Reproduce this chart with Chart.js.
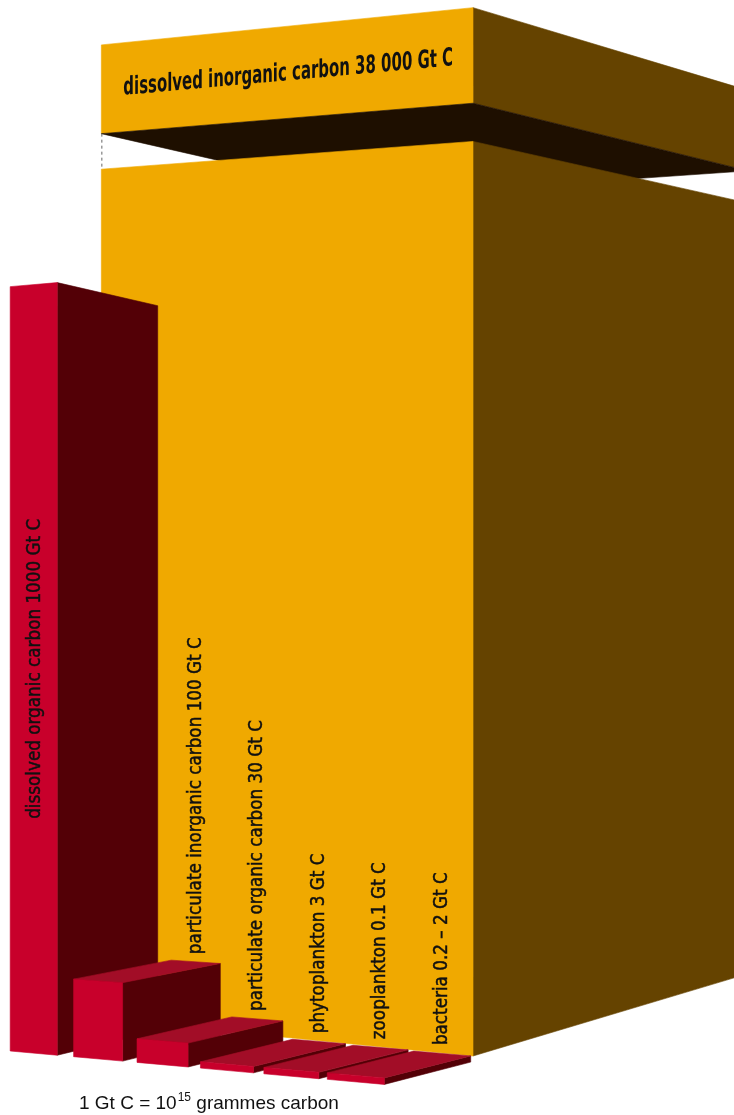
<!DOCTYPE html>
<html>
<head>
<meta charset="utf-8">
<script src="https://cdn.jsdelivr.net/npm/chart.js@4/dist/chart.umd.min.js"></script>
<style>
  html, body { margin: 0; padding: 0; background: #fff; }
  canvas { display: block; }
</style>
</head>
<body>
<canvas id="chart" width="734" height="1115"></canvas>
<script>
// Réservoirs de carbone dans l'océan (Gt C) -- barres rouges
const pools = ['dissolved organic carbon', 'particulate inorganic carbon', 'particulate organic carbon', 'phytoplankton', 'zooplankton', 'bacteria'];
const poolLow = [0, 0, 0, 0, 0, 0.2];   // bacteria = range 0.2 – 2
const poolHigh = [1000, 100, 30, 3, 0.1, 2];

// le gros bloc orange derriere (hors echelle, donc axe coupé)
const inorganicName = 'dissolved inorganic carbon';
const inorganicValue = 38000;

// axe y: max visible + zone de coupure du bloc 38 000
const yMax = 1375;
const yBreak = [1190, 1240];
const yCapTop = 1365;

const footnote = ['1 Gt C = 10', '15', ' grammes carbon'];

// -- COULEURS --
const RED_FRONT = '#c8002b';
const RED_SIDE = '#530006';
const RED_TOP = '#a20d27';
const ORANGE_FRONT = '#f0a900';
const ORANGE_SIDE = '#654300';
const ORANGE_UNDER = '#1e0f00';
const TEXT = '#111';

const LABEL_FONT = '18.7px "DejaVu Sans Condensed", "Liberation Sans", sans-serif';
const TITLE_FONT = 'bold 25px "DejaVu Sans Condensed", "Liberation Sans", sans-serif';
const NOTE_FONT = '19px "Liberation Sans", Arial, sans-serif';

// perspective "a la main": horizon, distance du point de fuite gauche, profondeur
const redView = { horizon: 660, vanish: 4345, depth: 1640 };
const orangeView = { horizon: 533, vanish: 4770, depth: 1747 };
const MIN_THICK = 6;        // epaisseur mini pour les tout petits reservoirs
const DEPTH0 = 102.5;       // profondeur des blocs rouges
const DEPTH_SHRINK = 0.043; // les blocs de droite sont moins profonds
const WIDEN = 0.00066;      // ... mais un peu plus larges
const ORANGE_DEPTH = 275;
const ORANGE_DROP = 5;      // le bloc orange descend un peu plus bas
const inorganicSpan = [1.05, 6.82]; // en unités de categorie

function fmtGt(lo, hi) {
  const f = v => v >= 10000 ? String(v).replace(/\B(?=(\d{3})+(?!\d))/g, ' ') : String(v);
  return (lo > 0 ? f(lo) + ' – ' + f(hi) : f(hi)) + ' Gt C';
}

// glisse un point le long d'une arete "avant" (vers le point de fuite gauche)
function front(view, chart, xFrom, yFrom, xTo) {
  const vpX = chart.chartArea.left - view.vanish;
  return view.horizon + (yFrom - view.horizon) * (xTo - vpX) / (xFrom - vpX);
}

// point arriere d'une arete (profondeur vers la droite)
function back(view, p, dx) {
  return [p[0] + dx, p[1] + (view.horizon - p[1]) * dx / view.depth];
}

function poly(ctx, pts, color) {
  ctx.beginPath();
  ctx.moveTo(pts[0][0], pts[0][1]);
  for (let i = 1; i < pts.length; i++) ctx.lineTo(pts[i][0], pts[i][1]);
  ctx.closePath();
  ctx.fillStyle = color;
  ctx.fill();
  ctx.strokeStyle = color;
  ctx.lineWidth = 0.6;
  ctx.stroke();
}

function drawInorganic(chart) {
  const { ctx, scales: { x, y } } = chart;
  const xl = x.getPixelForValue(inorganicSpan[0]);
  const xr = x.getPixelForValue(inorganicSpan[1]);
  const P = (val, xx) => {
    const py = y.getPixelForValue(val) + (val === 0 ? ORANGE_DROP : 0);
    return [xx, front(orangeView, chart, xr, py, xx)];
  };
  const B = p => back(orangeView, p, ORANGE_DEPTH);

  // [FLB, FLT, FRT, FRB]
  const lo = [P(0, xl), P(yBreak[0], xl), P(yBreak[0], xr), P(0, xr)];
  const up = [P(yBreak[1], xl), P(yCapTop, xl), P(yCapTop, xr), P(yBreak[1], xr)];

  ctx.save();
  poly(ctx, [up[2], B(up[2]), B(up[3]), up[3]], ORANGE_SIDE);
  poly(ctx, up, ORANGE_FRONT);
  poly(ctx, [up[0], up[3], B(up[3]), B(up[0])], ORANGE_UNDER); // dessous visible
  poly(ctx, [lo[2], B(lo[2]), B(lo[3]), lo[3]], ORANGE_SIDE);
  poly(ctx, lo, ORANGE_FRONT);

  // pointillé de la coupure
  ctx.beginPath();
  ctx.setLineDash([3, 3]);
  ctx.strokeStyle = '#666';
  ctx.lineWidth = 1;
  ctx.moveTo(xl + 0.5, up[0][1]);
  ctx.lineTo(xl + 0.5, lo[1][1]);
  ctx.stroke();
  ctx.setLineDash([]);

  // titre sur la face avant, cisaillé selon la perspective
  const text = inorganicName + ' ' + fmtGt(0, inorganicValue);
  const tx = xl + 22;
  const topY = front(orangeView, chart, xr, up[2][1], tx);
  const botY = front(orangeView, chart, xr, up[3][1], tx);
  const by = topY + 0.585 * (botY - topY);
  const slope = (by - orangeView.horizon) / (tx - (chart.chartArea.left - orangeView.vanish));
  ctx.font = TITLE_FONT;
  const room = (xr - 20) - tx;
  const sx = Math.min(1, room / ctx.measureText(text).width);
  ctx.setTransform(sx, slope * sx, 0, 1, tx, by);
  ctx.fillStyle = TEXT;
  ctx.textAlign = 'left';
  ctx.textBaseline = 'alphabetic';
  ctx.fillText(text, 0, 0);
  ctx.restore();
}

function drawPools(chart) {
  const { ctx, scales: { y } } = chart;
  const meta = chart.getDatasetMeta(0);
  const x0 = meta.data[0].x;
  const xRef = x0 - meta.data[0].width / 2;
  const labels = [];

  ctx.save();
  meta.data.forEach((bar, i) => {
    const half = bar.width / 2 * (1 + WIDEN * (bar.x - x0));
    const xl = bar.x - half;
    const xr = bar.x + half;
    const yLo = y.getPixelForValue(poolLow[i]);
    let yHi = y.getPixelForValue(poolHigh[i]);
    if (yLo - yHi < MIN_THICK) yHi = yLo - MIN_THICK;

    const P = (yy, xx) => [xx, front(redView, chart, xRef, yy, xx)];
    const FLB = P(yLo, xl), FLT = P(yHi, xl), FRT = P(yHi, xr), FRB = P(yLo, xr);
    const dx = DEPTH0 - DEPTH_SHRINK * (xr - xRef);
    const B = p => back(redView, p, dx);

    poly(ctx, [FRT, B(FRT), B(FRB), FRB], RED_SIDE);
    if (FLT[1] > redView.horizon) poly(ctx, [FLT, B(FLT), B(FRT), FRT], RED_TOP);
    poly(ctx, [FLB, FLT, FRT, FRB], RED_FRONT);

    labels.push({ FLB, FLT, FRT, back: [B(FLT), B(FRT)] });
  });

  // textes verticaux: dans la face si ça rentre, sinon au dessus du bloc
  ctx.font = LABEL_FONT;
  ctx.fillStyle = TEXT;
  ctx.strokeStyle = TEXT;
  ctx.lineWidth = 0.45; // un poil plus gras
  ctx.textBaseline = 'middle';
  labels.forEach((l, i) => {
    const text = pools[i] + ' ' + fmtGt(poolLow[i], poolHigh[i]);
    const w = ctx.measureText(text).width;
    const faceH = l.FLB[1] - l.FLT[1];
    ctx.save();
    if (w + 60 < faceH) {
      ctx.translate((l.FLT[0] + l.FRT[0]) / 2 + 1, (l.FLB[1] + l.FLT[1]) / 2);
      ctx.rotate(-Math.PI / 2);
      ctx.textAlign = 'center';
    } else {
      const cx = (l.back[0][0] + l.back[1][0]) / 2;
      const cy = Math.min(l.back[0][1], l.back[1][1]) - 6;
      ctx.translate(cx, cy);
      ctx.rotate(-Math.PI / 2);
      ctx.textAlign = 'left';
    }
    ctx.fillText(text, 0, 0);
    ctx.strokeText(text, 0, 0);
    ctx.restore();
  });
  ctx.restore();
}

// note en bas: 1 Gt C = 10^15 grammes carbon
function drawFootnote(chart) {
  const ctx = chart.ctx;
  let x = chart.chartArea.left + 77.5;
  const by = chart.height - 6;
  ctx.save();
  ctx.fillStyle = TEXT;
  ctx.textAlign = 'left';
  ctx.textBaseline = 'alphabetic';
  ctx.font = NOTE_FONT;
  ctx.fillText(footnote[0], x, by);
  x += ctx.measureText(footnote[0]).width + 1;
  ctx.font = '12px "Liberation Sans", Arial, sans-serif';
  ctx.fillText(footnote[1], x, by - 8);
  x += ctx.measureText(footnote[1]).width;
  ctx.font = NOTE_FONT;
  ctx.fillText(footnote[2], x, by);
  ctx.restore();
}

const blocks3d = {
  id: 'blocks3d',
  beforeDatasetsDraw(chart) { drawInorganic(chart); },
  afterDatasetsDraw(chart) { drawPools(chart); drawFootnote(chart); }
};

const ctx = document.getElementById('chart').getContext('2d');
const chart = new Chart(ctx, {
  type: 'bar',
  data: {
    labels: pools,
    datasets: [{
      data: poolLow.map((lo, i) => [lo, poolHigh[i]]),
      backgroundColor: 'rgba(0,0,0,0)', // dessiné par le plugin
      categoryPercentage: 1,
      barPercentage: 0.73
    }]
  },
  options: {
    responsive: false,
    animation: false,
    devicePixelRatio: 1,
    layout: { padding: { left: 1.5, right: 346, top: 0, bottom: 64 } },
    scales: {
      x: { display: false },
      y: { display: false, min: 0, max: yMax }
    },
    plugins: {
      legend: { display: false },
      tooltip: { enabled: false }
    }
  },
  plugins: [blocks3d]
});
</script>
</body>
</html>
